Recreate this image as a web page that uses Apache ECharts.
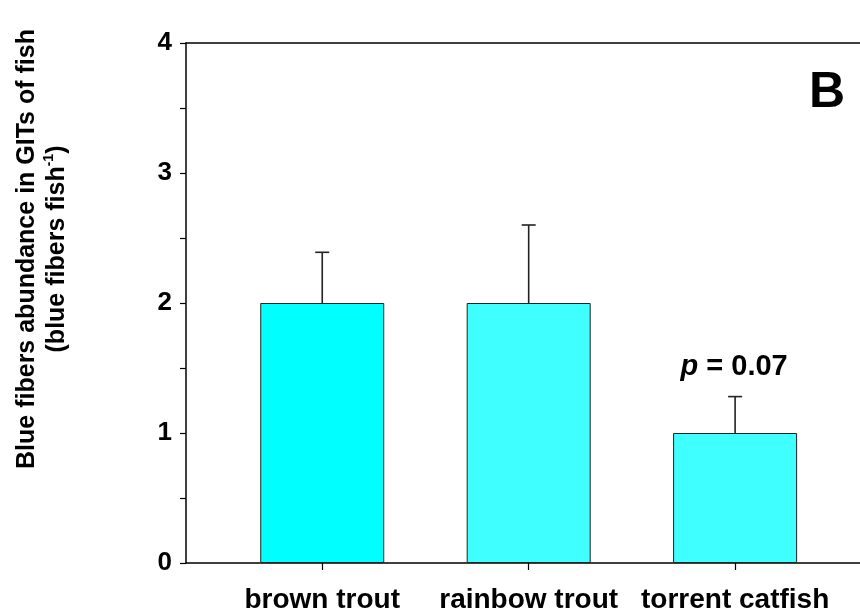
<!DOCTYPE html>
<html>
<head>
<meta charset="utf-8">
<script src="https://cdn.jsdelivr.net/npm/echarts@6/dist/echarts.min.js"></script>
<style>html,body{margin:0;padding:0;background:#fff;}#c{width:860px;height:612px;}</style>
</head>
<body>
<div id="c"></div>
<script>
const categories = ['brown trout', 'rainbow trout', 'torrent catfish'];
const means = [2, 2, 1];
const errUpper = [2.39, 2.6, 1.28];
const barColors = ['#00FFFF', '#40FFFF', '#40FFFF'];
const yTicks = [0, 1, 2, 3, 4];
const catIndex = [0, 1, 2];
const pLabelText = 'p = 0.07';
const pLabelIndex = 2;
const panelLetter = 'B';

const FONT = '"Liberation Sans", Arial, sans-serif';
const chart = echarts.init(document.getElementById('c'), null, {renderer: 'canvas'});

const option = {
  animation: false,
  backgroundColor: '#fff',
  grid: {left: 186, right: 0, top: 43, bottom: 49, containLabel: false, outerBoundsMode: 'none'},
  xAxis: [{
    type: 'value', min: -0.66, max: 2.605, position: 'bottom',
    axisLine: {show: true, onZero: false, lineStyle: {color: '#000', width: 1.5}},
    axisTick: {show: true, customValues: catIndex, length: 7, lineStyle: {color: '#000', width: 1.2}},
    axisLabel: {show: true, customValues: catIndex, formatter: v => categories[Math.round(v)] || '',
      fontFamily: FONT, fontWeight: 'bold', fontSize: 28, color: '#000', margin: 23},
    splitLine: {show: false}
  }, {
    type: 'value', min: -0.66, max: 2.605, position: 'top',
    axisLine: {show: true, onZero: false, lineStyle: {color: '#000', width: 1.5}},
    axisTick: {show: false}, axisLabel: {show: false}, splitLine: {show: false}
  }],
  yAxis: {
    type: 'value', min: 0, max: 4, interval: 1,
    axisLine: {show: true, onZero: false, lineStyle: {color: '#000', width: 1.5}},
    axisTick: {show: true, length: 6, lineStyle: {color: '#000', width: 1.2}},
    minorTick: {show: true, splitNumber: 2, length: 6, lineStyle: {color: '#000', width: 1.2}},
    axisLabel: {fontFamily: FONT, fontWeight: 'bold', fontSize: 26, color: '#000', margin: 14,
      customValues: yTicks},
    splitLine: {show: false}
  },
  graphic: [{
    type: 'text', x: 42, y: 249, rotation: Math.PI / 2,
    style: {
      text: '{a|Blue fibers abundance in GITs of fish}\n{a|(blue fibers fish}{s|-1}{a|)}',
      align: 'center', verticalAlign: 'middle',
      rich: {
        a: {fontFamily: FONT, fontWeight: 'bold', fontSize: 25, lineHeight: 30, fill: '#000'},
        s: {fontFamily: FONT, fontWeight: 'bold', fontSize: 14, lineHeight: 30, fill: '#000', verticalAlign: 'top', padding: [0, 0, 10, 0]}
      }
    }
  }, {
    type: 'text', x: 827, y: 93,
    style: {text: panelLetter, fontFamily: FONT, fontWeight: 'bold', fontSize: 50, fill: '#000',
      align: 'center', verticalAlign: 'middle'}
  }],
  series: [{
    type: 'bar',
    xAxisIndex: 0,
    barWidth: 124,
    data: means.map((v, i) => ({value: [i, v], itemStyle: {color: barColors[i]}})),
    itemStyle: {borderColor: '#222', borderWidth: 1}
  }, {
    type: 'custom',
    xAxisIndex: 0,
    data: means.map((v, i) => [i, v, errUpper[i]]),
    renderItem: function (params, api) {
      const i = api.value(0);
      const base = api.coord([i, api.value(1)]);
      const top = api.coord([i, api.value(2)]);
      const children = [
        {type: 'line', shape: {x1: base[0], y1: base[1], x2: top[0], y2: top[1]}, style: {stroke: '#222', lineWidth: 1.6}},
        {type: 'line', shape: {x1: top[0] - 7, y1: top[1], x2: top[0] + 7, y2: top[1]}, style: {stroke: '#222', lineWidth: 1.6}}
      ];
      if (i === pLabelIndex) {
        const parts = pLabelText.split(' ');
        children.push({
          type: 'text', x: top[0] - 1, y: top[1] - 15,
          style: {
            text: '{i|' + parts[0] + '}{n| ' + parts.slice(1).join(' ') + '}',
            align: 'center', verticalAlign: 'bottom',
            rich: {
              i: {fontFamily: FONT, fontWeight: 'bold', fontStyle: 'italic', fontSize: 29, fill: '#000'},
              n: {fontFamily: FONT, fontWeight: 'bold', fontSize: 29, fill: '#000'}
            }
          }
        });
      }
      return {type: 'group', children: children};
    },
    z: 3
  }]
};
chart.setOption(option);
</script>
</body>
</html>
